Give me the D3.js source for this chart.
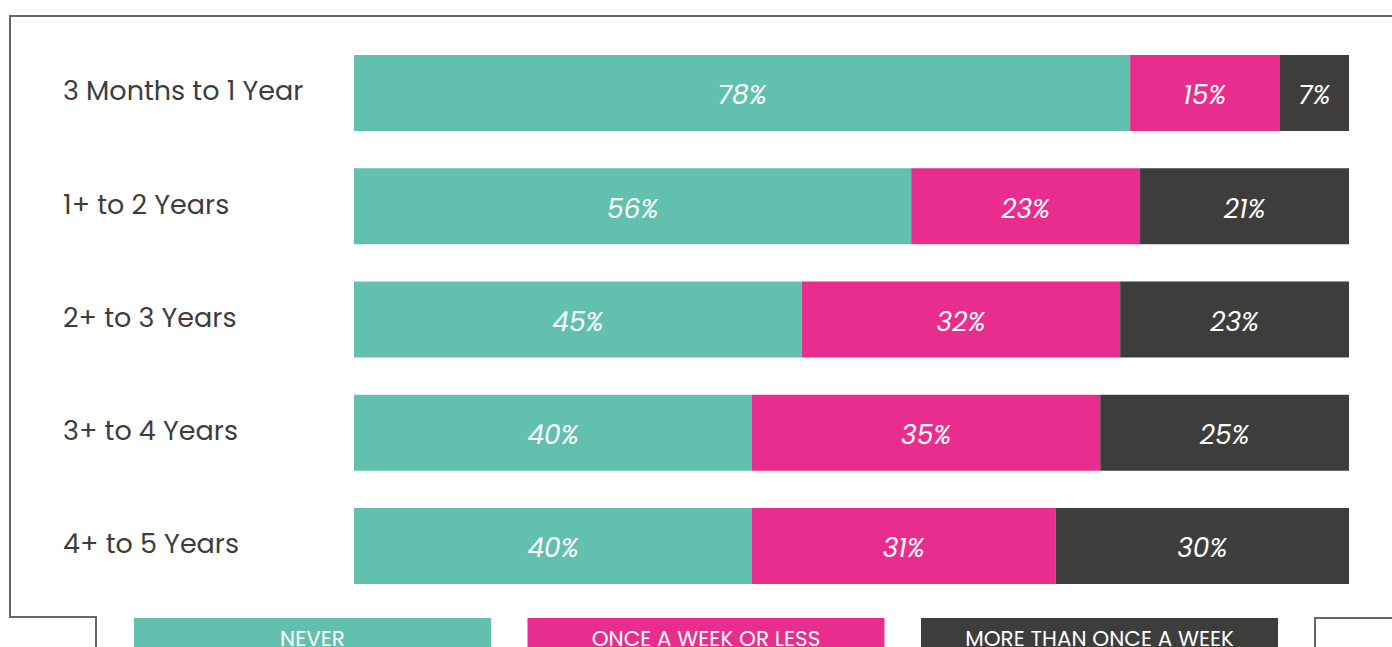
<!DOCTYPE html>
<html>
<head>
<meta charset="utf-8">
<script src="https://cdn.jsdelivr.net/npm/d3@7"></script>
<style>
  html, body { margin: 0; padding: 0; background: #fff; overflow: hidden; }
  svg { display: block; font-family: Poppins, "Noto Sans", sans-serif; }
</style>
</head>
<body>
<div id="chart"></div>
<script>
/* données */
let categories = ['3 Months to 1 Year', '1+ to 2 Years', '2+ to 3 Years', '3+ to 4 Years', '4+ to 5 Years'];
let series = ['NEVER', 'ONCE A WEEK OR LESS', 'MORE THAN ONCE A WEEK'];
let never = [78, 56, 45, 40, 40];
let onceWeek = [15, 23, 32, 35, 30.5];
let moreThanOnce = [7, 21, 23, 25, 29.5];
let colors = ['#62c1ae', '#e92d8e', '#3d3d3b'];

let width = 1392,
    height = 647;

let svg = d3.select('#chart').
append('svg').
attr('width', width).
attr('height', height);

/* cadre */
svg.append('path').
attr('d', 'M1392,16 H10 V617 H96 V647').
attr('fill', 'none').
attr('stroke', '#666').
attr('stroke-width', 2);
svg.append('path').
attr('d', 'M1392,618 H1315 V647').
attr('fill', 'none').
attr('stroke', '#666').
attr('stroke-width', 2);

/* échelles */
let yScale = d3.scaleBand().
domain(categories).
range([55, 584]).
paddingInner(0.329).
paddingOuter(0);

let xScale = d3.scaleLinear().
domain([0, 100]).
range([354, 1349]);

let rows = categories.map((c, i) => ({
  cat: c,
  NEVER: never[i],
  'ONCE A WEEK OR LESS': onceWeek[i],
  'MORE THAN ONCE A WEEK': moreThanOnce[i]
}));

let stacked = d3.stack().keys(series)(rows);

/* libellés catégories */
svg.append('g').selectAll('text').
data(categories).
enter().
append('text').
attr('x', 63).
attr('y', d => yScale(d) + yScale.bandwidth() / 2).
attr('dominant-baseline', 'middle').
attr('fill', '#3d3d3d').
style('font-size', '27px').
text(d => d);

/* barres */
let layers = svg.append('g').selectAll('g').
data(stacked).
enter().
append('g').
attr('fill', (d, i) => colors[i]);

layers.selectAll('rect').
data(d => d).
enter().
append('rect').
attr('x', d => xScale(d[0])).
attr('y', d => yScale(d.data.cat)).
attr('width', d => xScale(d[1]) - xScale(d[0])).
attr('height', yScale.bandwidth());

layers.selectAll('text').
data(d => d.map(p => ({ p: p, key: d.key }))).
enter().
append('text').
attr('x', d => (xScale(d.p[0]) + xScale(d.p[1])) / 2).
attr('y', d => yScale(d.p.data.cat) + yScale.bandwidth() / 2 + 4).
attr('text-anchor', 'middle').
attr('dominant-baseline', 'middle').
attr('fill', '#fff').
style('font-size', '26.5px').
style('font-style', 'italic').
text(d => Math.round(d.p.data[d.key]) + '%');

/* légende */
let legendScale = d3.scaleBand().
domain(series).
range([134, 1278]).
paddingInner(0.0928);

let legend = svg.append('g').selectAll('g').
data(series).
enter().
append('g');

legend.append('rect').
attr('x', d => legendScale(d)).
attr('y', 618).
attr('width', legendScale.bandwidth()).
attr('height', 40).
attr('fill', (d, i) => colors[i]);

legend.append('text').
attr('x', d => legendScale(d) + legendScale.bandwidth() / 2).
attr('y', 646).
attr('text-anchor', 'middle').
attr('fill', '#fff').
style('font-size', '21.5px').
text(d => d);
</script>
</body>
</html>
